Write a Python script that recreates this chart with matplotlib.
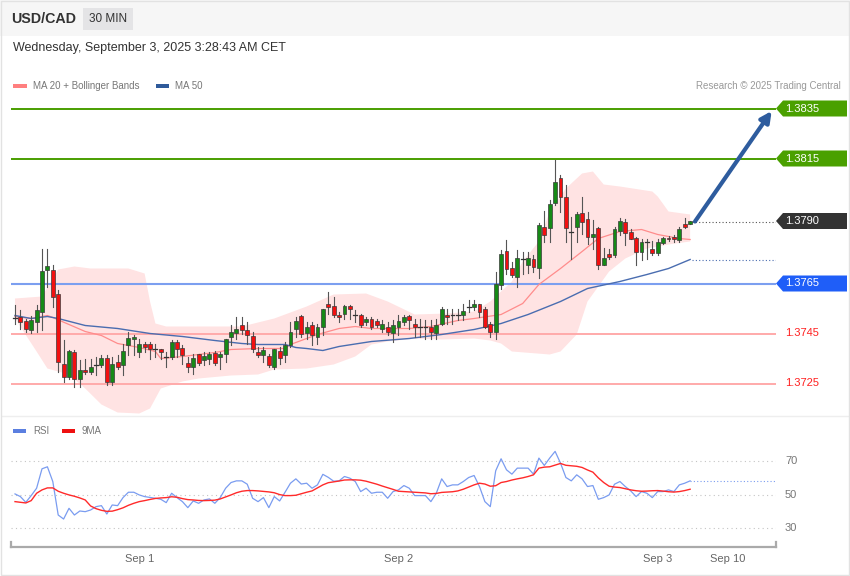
import matplotlib
matplotlib.use("Agg")
import matplotlib.pyplot as plt
from matplotlib.patches import Rectangle, Polygon
from matplotlib import transforms

plt.rcParams['font.family'] = ['Liberation Sans', 'DejaVu Sans']

# USD/CAD 30 min candles (Aug 31 evening -> Sep 3)
opens = [1.37514, 1.37518, 1.37498, 1.37466, 1.37498, 1.37538, 1.37706, 1.37706, 1.37606, 1.37326,
         1.37278, 1.37378, 1.37270, 1.37306, 1.37298, 1.37326, 1.37326, 1.37350, 1.37258, 1.37338,
         1.37326, 1.37406, 1.37430, 1.37378, 1.37406, 1.37406, 1.37390, 1.37386, 1.37358, 1.37358,
         1.37414, 1.37394, 1.37334, 1.37318, 1.37366, 1.37346, 1.37350, 1.37374, 1.37358, 1.37370,
         1.37438, 1.37454, 1.37486, 1.37466, 1.37438, 1.37378, 1.37366, 1.37358, 1.37318, 1.37378,
         1.37366, 1.37406, 1.37470, 1.37518, 1.37454, 1.37486, 1.37438, 1.37478, 1.37566, 1.37558,
         1.37526, 1.37530, 1.37558, 1.37526, 1.37526, 1.37498, 1.37506, 1.37498, 1.37470, 1.37478,
         1.37454, 1.37478, 1.37498, 1.37518, 1.37486, 1.37478, 1.37478, 1.37478, 1.37454, 1.37490,
         1.37526, 1.37526, 1.37526, 1.37526, 1.37558, 1.37558, 1.37566, 1.37546, 1.37486, 1.37458,
         1.37646, 1.37778, 1.37710, 1.37678, 1.37750, 1.37726, 1.37750, 1.37714, 1.37878, 1.37874,
         1.37974, 1.38070, 1.37998, 1.37858, 1.37878, 1.37934, 1.37906, 1.37838, 1.37870, 1.37726,
         1.37770, 1.37766, 1.37862, 1.37898, 1.37858, 1.37830, 1.37778, 1.37818, 1.37790, 1.37774,
         1.37814, 1.37834, 1.37838, 1.37826, 1.37886, 1.37890]
highs = [1.37566, 1.37546, 1.37510, 1.37522, 1.37566, 1.37790, 1.37790, 1.37726, 1.37626, 1.37426,
         1.37386, 1.37386, 1.37346, 1.37350, 1.37350, 1.37358, 1.37366, 1.37366, 1.37358, 1.37366,
         1.37410, 1.37458, 1.37446, 1.37430, 1.37418, 1.37418, 1.37410, 1.37390, 1.37378, 1.37426,
         1.37426, 1.37406, 1.37358, 1.37370, 1.37370, 1.37378, 1.37378, 1.37382, 1.37378, 1.37430,
         1.37486, 1.37518, 1.37518, 1.37498, 1.37458, 1.37398, 1.37398, 1.37370, 1.37390, 1.37398,
         1.37418, 1.37498, 1.37518, 1.37526, 1.37498, 1.37498, 1.37490, 1.37550, 1.37618, 1.37598,
         1.37538, 1.37566, 1.37566, 1.37546, 1.37530, 1.37518, 1.37518, 1.37510, 1.37506, 1.37498,
         1.37506, 1.37526, 1.37526, 1.37526, 1.37510, 1.37510, 1.37506, 1.37506, 1.37510, 1.37558,
         1.37550, 1.37550, 1.37550, 1.37570, 1.37586, 1.37586, 1.37570, 1.37558, 1.37498, 1.37698,
         1.37786, 1.37826, 1.37738, 1.37786, 1.37778, 1.37778, 1.37766, 1.37894, 1.37942, 1.37986,
         1.38146, 1.38086, 1.38046, 1.37918, 1.37938, 1.37998, 1.37938, 1.37906, 1.37878, 1.37794,
         1.37790, 1.37878, 1.37914, 1.37910, 1.37870, 1.37838, 1.37830, 1.37830, 1.37822, 1.37830,
         1.37838, 1.37842, 1.37846, 1.37878, 1.37914, 1.37902]
lows = [1.37490, 1.37470, 1.37458, 1.37454, 1.37458, 1.37466, 1.37638, 1.37558, 1.37298, 1.37258,
        1.37270, 1.37238, 1.37238, 1.37290, 1.37290, 1.37286, 1.37318, 1.37246, 1.37246, 1.37310,
        1.37286, 1.37366, 1.37366, 1.37358, 1.37378, 1.37350, 1.37358, 1.37350, 1.37318, 1.37350,
        1.37358, 1.37330, 1.37298, 1.37290, 1.37326, 1.37326, 1.37330, 1.37326, 1.37310, 1.37338,
        1.37406, 1.37430, 1.37450, 1.37410, 1.37378, 1.37358, 1.37338, 1.37318, 1.37310, 1.37330,
        1.37338, 1.37398, 1.37438, 1.37438, 1.37430, 1.37406, 1.37410, 1.37446, 1.37530, 1.37518,
        1.37498, 1.37510, 1.37510, 1.37498, 1.37478, 1.37486, 1.37470, 1.37478, 1.37458, 1.37446,
        1.37418, 1.37446, 1.37486, 1.37470, 1.37438, 1.37438, 1.37430, 1.37430, 1.37430, 1.37486,
        1.37490, 1.37490, 1.37506, 1.37506, 1.37538, 1.37546, 1.37518, 1.37474, 1.37438, 1.37430,
        1.37630, 1.37690, 1.37678, 1.37638, 1.37690, 1.37694, 1.37698, 1.37674, 1.37818, 1.37818,
        1.37966, 1.37938, 1.37818, 1.37750, 1.37818, 1.37850, 1.37810, 1.37790, 1.37710, 1.37726,
        1.37750, 1.37758, 1.37846, 1.37806, 1.37830, 1.37726, 1.37746, 1.37750, 1.37766, 1.37766,
        1.37810, 1.37822, 1.37818, 1.37818, 1.37874, 1.37890]
closes = [1.37514, 1.37498, 1.37470, 1.37506, 1.37546, 1.37698, 1.37718, 1.37598, 1.37338, 1.37278,
          1.37378, 1.37270, 1.37306, 1.37298, 1.37318, 1.37326, 1.37350, 1.37258, 1.37326, 1.37318,
          1.37378, 1.37430, 1.37438, 1.37406, 1.37398, 1.37390, 1.37390, 1.37378, 1.37358, 1.37418,
          1.37390, 1.37366, 1.37318, 1.37354, 1.37334, 1.37358, 1.37366, 1.37334, 1.37366, 1.37426,
          1.37458, 1.37470, 1.37466, 1.37446, 1.37390, 1.37366, 1.37386, 1.37326, 1.37386, 1.37354,
          1.37406, 1.37458, 1.37498, 1.37450, 1.37478, 1.37446, 1.37478, 1.37546, 1.37558, 1.37526,
          1.37518, 1.37558, 1.37550, 1.37526, 1.37486, 1.37510, 1.37478, 1.37486, 1.37490, 1.37458,
          1.37486, 1.37498, 1.37518, 1.37506, 1.37478, 1.37478, 1.37478, 1.37458, 1.37486, 1.37550,
          1.37518, 1.37526, 1.37526, 1.37538, 1.37558, 1.37566, 1.37538, 1.37478, 1.37458, 1.37646,
          1.37766, 1.37710, 1.37686, 1.37750, 1.37750, 1.37750, 1.37718, 1.37886, 1.37846, 1.37966,
          1.38058, 1.37998, 1.37874, 1.37858, 1.37926, 1.37898, 1.37838, 1.37846, 1.37726, 1.37750,
          1.37758, 1.37870, 1.37898, 1.37854, 1.37830, 1.37778, 1.37818, 1.37818, 1.37774, 1.37818,
          1.37830, 1.37830, 1.37830, 1.37870, 1.37878, 1.37898]

# indicator lines (candle index, price)
ma50_idx = [0, 3, 6, 8, 13, 19, 25, 31, 37, 42, 45, 50, 52, 54, 57, 60, 66, 73, 79, 85,
            90, 95, 101, 106, 112, 117, 121, 125]
ma50_val = [1.37522, 1.37510, 1.37518, 1.37510, 1.37482, 1.37470, 1.37450, 1.37438, 1.37422, 1.37410,
            1.37406, 1.37406, 1.37394, 1.37390, 1.37382, 1.37398, 1.37418, 1.37430, 1.37446, 1.37466,
            1.37490, 1.37526, 1.37578, 1.37630, 1.37658, 1.37686, 1.37710, 1.37746]
ma20_idx = [0, 3, 6, 7, 10, 13, 16, 19, 23, 26, 27, 31, 34, 37, 40, 45, 50, 51, 54, 56,
            60, 63, 66, 73, 77, 82, 85, 90, 94, 97, 101, 105, 108, 112, 116, 119, 123, 125]
ma20_val = [1.37518, 1.37510, 1.37522, 1.37514, 1.37486, 1.37458, 1.37442, 1.37410, 1.37394, 1.37378,
            1.37350, 1.37358, 1.37366, 1.37374, 1.37386, 1.37390, 1.37390, 1.37406, 1.37430, 1.37446,
            1.37470, 1.37478, 1.37470, 1.37470, 1.37478, 1.37502, 1.37510, 1.37526, 1.37570, 1.37646,
            1.37710, 1.37778, 1.37830, 1.37858, 1.37866, 1.37846, 1.37830, 1.37826]
bb_up_idx = [0, 5, 8, 11, 14, 21, 24, 25, 26, 28, 34, 42, 48, 54, 59, 65, 69, 74, 80, 85,
             88, 92, 94, 97, 99, 102, 105, 107, 109, 112, 118, 119, 121, 125]
bb_up_val = [1.37590, 1.37598, 1.37706, 1.37718, 1.37710, 1.37710, 1.37690, 1.37578, 1.37490, 1.37478,
             1.37478, 1.37478, 1.37510, 1.37558, 1.37606, 1.37610, 1.37578, 1.37526, 1.37530, 1.37538,
             1.37578, 1.37658, 1.37738, 1.37818, 1.37938, 1.38030, 1.38090, 1.38098, 1.38046, 1.38038,
             1.38018, 1.37998, 1.37938, 1.37926]
bb_lo_idx = [0, 4, 6, 10, 13, 16, 19, 23, 25, 27, 31, 34, 40, 45, 48, 54, 59, 63, 66, 69,
             74, 79, 85, 88, 90, 92, 99, 101, 104, 106, 110, 113, 117, 121, 125]
bb_lo_val = [1.37510, 1.37378, 1.37310, 1.37286, 1.37230, 1.37166, 1.37134, 1.37130, 1.37150, 1.37230,
             1.37258, 1.37270, 1.37282, 1.37286, 1.37306, 1.37310, 1.37326, 1.37358, 1.37406, 1.37418,
             1.37430, 1.37426, 1.37430, 1.37422, 1.37410, 1.37378, 1.37366, 1.37378, 1.37446, 1.37578,
             1.37698, 1.37750, 1.37790, 1.37806, 1.37818]

# RSI and its 9 period average, one value per candle
rsi = [50.6, 49.0, 45.6, 49.6, 54.0, 65.6, 66.8, 58.0, 38.0, 35.6,
       42.0, 38.0, 40.4, 40.0, 41.0, 43.0, 43.6, 38.6, 44.0, 43.6,
       48.4, 51.6, 51.6, 50.0, 49.0, 48.5, 48.0, 47.4, 45.4, 51.0,
       48.4, 46.0, 42.4, 46.4, 45.0, 47.0, 47.6, 45.0, 48.4, 54.0,
       57.4, 58.4, 58.4, 56.4, 48.0, 46.0, 48.4, 42.4, 49.0, 46.4,
       51.6, 57.0, 59.6, 56.5, 57.0, 54.0, 56.0, 62.3, 60.5, 58.2,
       58.4, 61.0, 60.0, 58.0, 52.0, 54.0, 51.0, 51.6, 51.6, 48.0,
       52.0, 53.0, 55.6, 54.0, 49.6, 49.6, 49.6, 46.0, 51.0, 59.6,
       55.0, 56.0, 56.0, 58.0, 60.4, 61.6, 55.0, 46.0, 43.0, 64.4,
       71.6, 65.0, 62.4, 66.0, 66.0, 66.0, 62.4, 72.0, 67.6, 72.0,
       76.0, 69.0, 60.4, 58.4, 62.0, 59.6, 55.0, 55.6, 47.4, 48.4,
       50.0, 56.4, 58.0, 55.0, 52.4, 49.0, 52.0, 51.0, 48.4, 52.0,
       52.0, 53.0, 52.0, 56.0, 57.0, 58.4]
rsi_ma = [46.0, 45.6, 45.2, 46.6, 51.0, 53.0, 54.2, 54.2, 52.2, 51.0,
          50.0, 49.2, 48.2, 47.0, 43.4, 41.8, 40.8, 40.2, 40.3, 41.2,
          42.3, 43.8, 45.0, 46.0, 46.6, 47.3, 47.9, 48.2, 48.4, 48.9,
          48.6, 47.8, 47.2, 47.0, 46.7, 46.6, 46.7, 46.9, 47.6, 48.8,
          50.0, 51.3, 52.2, 52.6, 52.6, 52.4, 52.1, 51.8, 51.3, 50.2,
          49.6, 49.6, 49.8, 50.7, 51.6, 52.4, 54.2, 56.0, 57.3, 57.8,
          58.3, 58.9, 59.0, 59.0, 58.8, 58.2, 57.3, 56.4, 55.3, 54.3,
          53.3, 52.2, 52.0, 51.8, 51.6, 51.4, 51.2, 50.7, 50.9, 51.5,
          51.7, 51.9, 52.4, 53.4, 54.7, 56.0, 57.0, 56.5, 55.2, 55.5,
          57.4, 58.0, 58.9, 59.6, 60.2, 61.0, 62.0, 66.0, 66.6, 66.8,
          67.8, 68.8, 67.7, 67.4, 67.1, 66.4, 64.9, 63.6, 60.2, 57.4,
          55.2, 54.7, 54.4, 53.7, 53.0, 52.5, 52.2, 52.3, 52.5, 52.6,
          52.3, 51.9, 51.7, 52.0, 52.6, 53.4]

# key levels
resistances = [1.3835, 1.3815]
last_price = 1.3790
pivot = 1.3765
supports = [1.3745, 1.3725]
target = 1.3834

date_ticks = [23, 71, 119, 132]
date_labels = ['Sep 1', 'Sep 2', 'Sep 3', 'Sep 10']

W, H = 850, 576
fig = plt.figure(figsize=(W / 100, H / 100), dpi=100)
fig.patch.set_facecolor('white')

def fx(px):
    return px / W

def fy(py):
    return 1 - py / H

# header strip + frame
fig.patches.append(Rectangle((0, fy(36)), 1, 36 / H, transform=fig.transFigure,
                             facecolor='#f6f6f6', edgecolor='none', zorder=0))
fig.patches.append(Rectangle((fx(83), fy(30)), 50 / W, 22 / H, transform=fig.transFigure,
                             facecolor='#e4e4e6', edgecolor='none', zorder=1))
fig.patches.append(Rectangle((0.001, 0.001), 0.998, 0.997, transform=fig.transFigure,
                             facecolor='none', edgecolor='#e2e2e2', lw=1, zorder=5))
fig.text(fx(11), fy(19), 'USD/CAD', fontsize=10.3, fontweight='bold', color='#333333', va='center')
fig.text(fx(108), fy(19), '30 MIN', fontsize=8.5, color='#333333', va='center', ha='center')
fig.text(fx(13), fy(48), 'Wednesday, September 3, 2025 3:28:43 AM CET', fontsize=9,
         color='#333333', va='center')

# legends
fig.patches.append(Rectangle((fx(13), fy(88)), 14 / W, 4 / H, transform=fig.transFigure,
                             facecolor='#ff7f7f', edgecolor='none'))
fig.text(fx(33), fy(86), 'MA 20 + Bollinger Bands', fontsize=7, color='#777777', va='center')
fig.patches.append(Rectangle((fx(156), fy(88)), 13 / W, 4 / H, transform=fig.transFigure,
                             facecolor='#2f5a9a', edgecolor='none'))
fig.text(fx(175), fy(86), 'MA 50', fontsize=7, color='#777777', va='center')
fig.text(fx(841), fy(86), 'Research \u00a9 2025 Trading Central', fontsize=7, color='#999999',
         va='center', ha='right')

fig.patches.append(Rectangle((fx(13), fy(433)), 13 / W, 4 / H, transform=fig.transFigure,
                             facecolor='#5b7fe0', edgecolor='none'))
fig.text(fx(33), fy(431), 'RSI', fontsize=7, color='#777777', va='center')
fig.patches.append(Rectangle((fx(62), fy(433)), 13 / W, 4 / H, transform=fig.transFigure,
                             facecolor='#ee1111', edgecolor='none'))
fig.text(fx(82), fy(431), '9MA', fontsize=7, color='#777777', va='center')

# panel separator
fig.add_artist(plt.Line2D([0.002, 0.998], [fy(416), fy(416)], transform=fig.transFigure,
                          color='#eeeeee', lw=1))

xmin, xmax = -0.74, 140.9

# ---- price panel ----
ax = fig.add_axes([fx(11), fy(415), 765 / W, (415 - 97) / H])
ax.set_xlim(xmin, xmax)
ax.set_ylim(1.37124, 1.38396)
ax.axis('off')

band_x = bb_up_idx + bb_lo_idx[::-1]
band_y = bb_up_val + bb_lo_val[::-1]
ax.fill(band_x, band_y, color='#ffe3e3', lw=0, zorder=1)

for lvl in resistances:
    ax.axhline(lvl, color='#4a9e00', lw=1.4, zorder=2)
ax.axhline(pivot, color='#7c9ff0', lw=1.5, zorder=2)
for lvl in supports:
    ax.axhline(lvl, color='#ffaaaa', lw=1.4, zorder=2)

ax.plot(ma20_idx, ma20_val, color='#ff8c8c', lw=0.9, zorder=3)
ax.plot(ma50_idx, ma50_val, color='#4a6db0', lw=1.0, zorder=3)

n = len(closes)
last = n - 1
ax.plot([last + 0.4, xmax], [closes[-1], closes[-1]], color='#555555', lw=0.8,
        ls=(0, (1, 2)), zorder=2)
ax.plot([last + 0.4, xmax], [ma50_val[-1], ma50_val[-1]], color='#4a6db0', lw=0.8,
        ls=(0, (1, 2)), zorder=2)

bw = 0.72
for i in range(n):
    o, h, l, c = opens[i], highs[i], lows[i], closes[i]
    ax.plot([i, i], [l, h], color='#555555', lw=0.8, zorder=4)
    if c > o:
        fc = '#168a16'
    elif c < o:
        fc = '#f21010'
    else:
        fc = None
    if fc is None:
        ax.plot([i - bw / 2, i + bw / 2], [o, o], color='#333333', lw=0.9, zorder=5)
    else:
        ax.add_patch(Rectangle((i - bw / 2, min(o, c)), bw, abs(c - o), facecolor=fc,
                               edgecolor='#3a3a3a', lw=0.5, zorder=5))

ax.annotate('', xy=(140.1, target), xytext=(last + 0.9, closes[-1]),
            arrowprops=dict(arrowstyle='-|>', color='#2e5c9e', lw=3, mutation_scale=16,
                            shrinkA=0, shrinkB=0), zorder=6)

# price tags on the right
tr = transforms.blended_transform_factory(fig.transFigure, ax.transData)
hh = 0.00032

def tag(level, color):
    pts = [(fx(776), level), (fx(783), level - hh), (fx(847), level - hh),
           (fx(847), level + hh), (fx(783), level + hh)]
    fig.patches.append(Polygon(pts, closed=True, transform=tr, facecolor=color,
                               edgecolor='none', clip_on=False))
    fig.text(fx(785), level, f'{level:.4f}', transform=tr, fontsize=8, color='white',
             va='center')

for lvl in resistances:
    tag(lvl, '#4aa000')
tag(last_price, '#333333')
tag(pivot, '#1f5ef8')
for lvl in supports:
    fig.text(fx(785), lvl, f'{lvl:.4f}', transform=tr, fontsize=8, color='#ff2020', va='center')

# ---- RSI panel ----
ar = fig.add_axes([fx(11), fy(547), 765 / W, (547 - 440) / H])
ar.set_xlim(xmin, xmax)
ar.set_ylim(18.9, 82.8)
ar.set_facecolor('none')
for s in ['top', 'right', 'left']:
    ar.spines[s].set_visible(False)
ar.spines['bottom'].set_color('#aaaaaa')
ar.spines['bottom'].set_linewidth(1.6)
ar.set_yticks([])
for g in [30, 50, 70]:
    ar.axhline(g, color='#c4c4c4', lw=0.8, ls=(0, (1, 3)))
    fig.text(fx(785), g, str(g), transform=transforms.blended_transform_factory(
        fig.transFigure, ar.transData), fontsize=8, color='#777777', va='center')
ar.plot(range(n), rsi, color='#7a9cf0', lw=0.9)
ar.plot(range(n), rsi_ma, color='#ff2a2a', lw=1.0)
ar.plot([last, xmax], [rsi[-1], rsi[-1]], color='#7a9cf0', lw=0.8, ls=(0, (1, 2)))
tb = transforms.blended_transform_factory(ar.transData, ar.transAxes)
for xe in [xmin, xmax]:
    ar.plot([xe, xe], [0, 0.05], transform=tb, color='#aaaaaa', lw=1.6, clip_on=False)
ar.set_xticks(date_ticks)
ar.set_xticklabels(date_labels)
ar.tick_params(axis='x', length=0, pad=5, labelsize=8, labelcolor='#666666')

fig.savefig('out.png', dpi=100)
